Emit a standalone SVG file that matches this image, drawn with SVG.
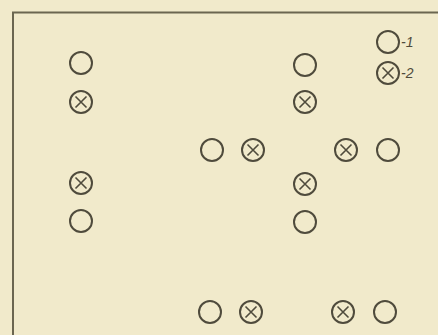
<svg xmlns="http://www.w3.org/2000/svg" width="438" height="335" viewBox="0 0 438 335">
<defs>
<style>
.c{fill:none;stroke:#4f4b3c;stroke-width:2}
.x{fill:none;stroke:#4f4b3c;stroke-width:1.6}
.f{fill:none;stroke:#6b6650;stroke-width:2}
.t{font-family:"Liberation Sans",Arial,sans-serif;font-size:14px;font-style:italic;fill:#4f4b3c}
</style>
<g id="o"><circle class="c" r="11"/></g>
<g id="ox"><circle class="c" r="11"/><path class="x" d="M-5.5,-5.5L5.5,5.5M5.5,-5.5L-5.5,5.5"/></g>
</defs>
<rect width="438" height="335" fill="#f1eacb"/>
<g id="frame"><path class="f" d="M13,335V12.5H438"/></g>
<g id="col-left">
<use href="#o" x="81" y="63"/>
<use href="#ox" x="81" y="102"/>
<use href="#ox" x="81" y="183"/>
<use href="#o" x="81" y="221"/>
</g>
<g id="col-right">
<use href="#o" x="305" y="65"/>
<use href="#ox" x="305" y="102"/>
<use href="#ox" x="305" y="184"/>
<use href="#o" x="305" y="222"/>
</g>
<g id="row-mid">
<use href="#o" x="212" y="150"/>
<use href="#ox" x="253" y="150"/>
<use href="#ox" x="346" y="150"/>
<use href="#o" x="388" y="150"/>
</g>
<g id="row-bottom">
<use href="#o" x="210" y="312"/>
<use href="#ox" x="251" y="312"/>
<use href="#ox" x="343" y="312"/>
<use href="#o" x="385" y="312"/>
</g>
<g id="legend">
<use href="#o" x="388" y="42"/>
<text class="t" x="401" y="47">-1</text>
<use href="#ox" x="388" y="73"/>
<text class="t" x="401" y="78">-2</text>
</g>
</svg>
